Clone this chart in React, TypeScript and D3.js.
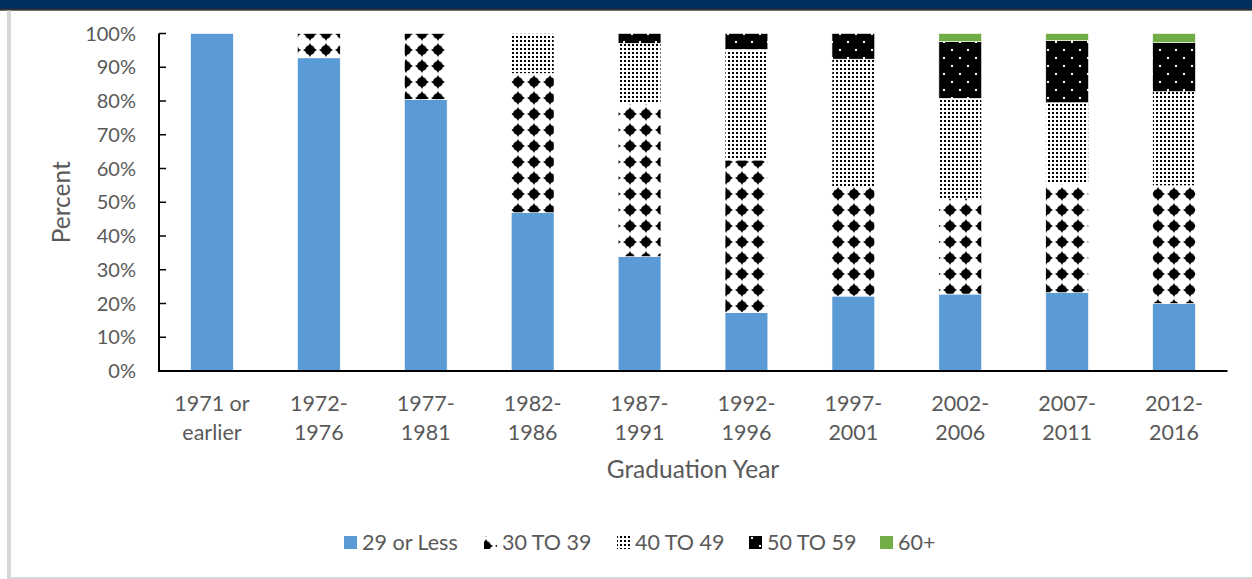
import React from "react";
import * as d3 from "d3";

const categories = [
  "1971 or earlier",
  "1972-1976",
  "1977-1981",
  "1982-1986",
  "1987-1991",
  "1992-1996",
  "1997-2001",
  "2002-2006",
  "2007-2011",
  "2012-2016",
];
const seriesNames = ["29 or Less", "30 TO 39", "40 TO 49", "50 TO 59", "60+"];
const s29orLess = [100, 92.8, 80.5, 46.9, 33.9, 17.3, 22.2, 22.8, 23.2, 20.0];
const s30to39 = [0, 7.2, 19.5, 41.3, 45.4, 45.2, 32.4, 28.4, 32.2, 34.9];
const s40to49 = [0, 0, 0, 11.8, 17.8, 32.8, 37.8, 29.6, 24.1, 27.9];
const s50to59 = [0, 0, 0, 0, 2.9, 4.7, 7.6, 16.8, 18.4, 14.5];
const s60plus = [0, 0, 0, 0, 0, 0, 0, 2.4, 2.1, 2.7];
const yTicks = [0, 10, 20, 30, 40, 50, 60, 70, 80, 90, 100];

const fills = [
  "#5B9BD5",
  "url(#pat30)",
  "url(#pat40)",
  "url(#pat50)",
  "#70AD47",
];

const TEXT = "#595959";
const FONT = "Lato, 'Open Sans', sans-serif";

function wrapLabel(c: string): string[] {
  if (c.includes(" or ")) {
    const i = c.indexOf(" or ");
    return [c.slice(0, i + 3), c.slice(i + 4)];
  }
  const i = c.indexOf("-");
  return [c.slice(0, i + 1), c.slice(i + 1)];
}

export default function App() {
  const W = 1252;
  const H = 579;
  const x = d3
    .scaleBand<string>()
    .domain(categories)
    .range([158.5, 1227.5])
    .paddingInner(0.6)
    .paddingOuter(0.3);
  const y = d3.scaleLinear().domain([0, 100]).range([371, 33.5]);

  const allSeries = [s29orLess, s30to39, s40to49, s50to59, s60plus];
  const rows = categories.map((c, i) => {
    const r: any = { cat: c };
    seriesNames.forEach((s, k) => (r[s] = allSeries[k][i]));
    return r;
  });
  const stacked = d3.stack().keys(seriesNames)(rows);

  const diamond =
    "M8,1 L9.2,3.2 L11,4 L12,5 L12.8,6.8 L15,8 L12.8,9.2 L12,11 L11,12 L9.2,12.8 L8,15 L6.8,12.8 L5,12 L4,11 L3.2,9.2 L1,8 L3.2,6.8 L4,5 L5,4 L6.8,3.2 Z";

  const legendX = [344, 484, 617, 749, 880];

  return (
    <div style={{ position: "absolute", left: 0, top: 0 }}>
      <svg width={W} height={H} style={{ display: "block" }}>
        <defs>
          <pattern id="pat30" patternUnits="userSpaceOnUse" x={-2} y={-6} width={16} height={16}>
            <rect width={16} height={16} fill="#fff" />
            <path d={diamond} fill="#000" />
          </pattern>
          <pattern id="pat40" patternUnits="userSpaceOnUse" x={0} y={0} width={4} height={4}>
            <rect width={4} height={4} fill="#fff" />
            <rect x={0} y={0} width={2} height={2} fill="#000" />
          </pattern>
          <pattern id="pat50" patternUnits="userSpaceOnUse" x={-4} y={-2} width={16} height={16}>
            <rect width={16} height={16} fill="#000" />
            <rect x={11} y={3} width={2} height={2} fill="#fff" />
            <rect x={3} y={11} width={2} height={2} fill="#fff" />
          </pattern>
        </defs>

        <rect x={0} y={0} width={W} height={H} fill="#fff" />
        {/* frame */}
        <rect x={0} y={0} width={W} height={9} fill="#002F5F" />
        <rect x={0} y={8.7} width={W} height={2} fill="#333" />
        <rect x={7} y={10.5} width={4} height={H - 10.5} fill="#d6d6d6" />
        <rect x={7} y={577} width={W - 7} height={2} fill="#d6d6d6" />

        {/* bars */}
        {stacked.map((layer, k) => (
          <g key={layer.key}>
            {layer.map((d: any, i: number) => {
              const h = y(d[0]) - y(d[1]);
              if (h <= 0) return null;
              return (
                <rect
                  key={i}
                  x={x(categories[i])}
                  width={x.bandwidth()}
                  y={y(d[1])}
                  height={h}
                  fill={fills[k]}
                  stroke="#fff"
                  strokeWidth={0.6}
                />
              );
            })}
          </g>
        ))}

        {/* y axis */}
        <line x1={159} x2={159} y1={y(100)} y2={y(0)} stroke="#000" strokeWidth={2} />
        {yTicks.map((t) => (
          <g key={t}>
            <line x1={159} x2={166} y1={y(t)} y2={y(t)} stroke="#000" strokeWidth={1.5} />
            <text
              x={136}
              y={y(t)}
              dy="0.36em"
              textAnchor="end"
              fontFamily={FONT}
              fontSize={20}
              fill={TEXT}
            >
              {t}%
            </text>
          </g>
        ))}
        {/* x axis */}
        <line x1={158} x2={1227.5} y1={y(0)} y2={y(0)} stroke="#000" strokeWidth={2} />
        {categories.map((c) => {
          const lines = wrapLabel(c);
          const cx = (x(c) as number) + x.bandwidth() / 2;
          return (
            <text key={c} textAnchor="middle" fontFamily={FONT} fontSize={21.5} fill={TEXT}>
              <tspan x={cx} y={411}>
                {lines[0]}
              </tspan>
              <tspan x={cx} y={439.5}>
                {lines[1]}
              </tspan>
            </text>
          );
        })}

        <text
          x={693}
          y={478}
          textAnchor="middle"
          fontFamily={FONT}
          fontSize={24.5}
          fill={TEXT}
        >
          Graduation Year
        </text>
        <text
          transform={`translate(70, ${(y(0) + y(100)) / 2}) rotate(-90)`}
          textAnchor="middle"
          fontFamily={FONT}
          fontSize={24.5}
          fill={TEXT}
        >
          Percent
        </text>

        {/* legend */}
        {seriesNames.map((s, k) => (
          <g key={s}>
            <rect x={legendX[k]} y={536} width={13} height={13} fill={fills[k]} />
            <text
              x={legendX[k] + 18}
              y={550}
              fontFamily={FONT}
              fontSize={21.5}
              fill={TEXT}
            >
              {s}
            </text>
          </g>
        ))}
      </svg>
    </div>
  );
}
